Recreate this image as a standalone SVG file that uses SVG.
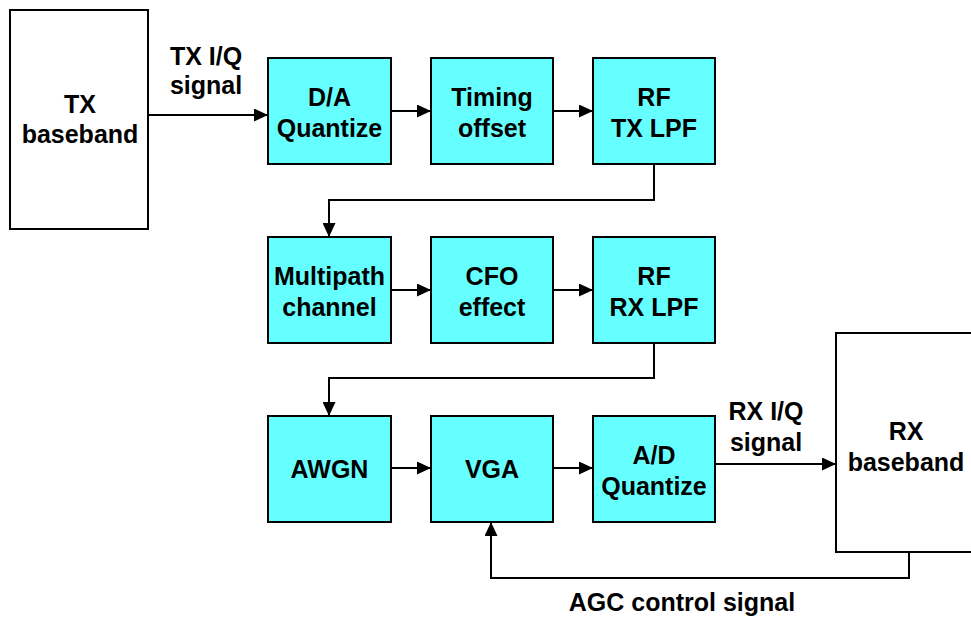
<svg xmlns="http://www.w3.org/2000/svg" width="971" height="619" viewBox="0 0 971 619">
<defs>
<marker id="ah" markerWidth="14" markerHeight="13" refX="14" refY="6.5" orient="auto" markerUnits="userSpaceOnUse">
<path d="M0,0 L14,6.5 L0,13 Z" fill="#000"/>
</marker>
<style>
.blk{fill:#66FFFF;stroke:#000;stroke-width:2}
.bb{fill:#fff;stroke:#000;stroke-width:2}
.t{font-family:"Liberation Sans",Arial,sans-serif;font-weight:bold;font-size:25px;text-anchor:middle;fill:#000}
.c{fill:none;stroke:#000;stroke-width:2;marker-end:url(#ah)}
</style>
</defs>
<rect width="971" height="619" fill="#fff"/>
<g id="tx_baseband"><rect class="bb" x="10" y="10" width="138" height="219"/><text class="t" x="80" y="113">TX</text><text class="t" x="80" y="143">baseband</text></g>
<g id="da"><rect class="blk" x="268" y="58" width="123" height="106"/><text class="t" x="329.5" y="106">D/A</text><text class="t" x="329.5" y="137">Quantize</text></g>
<g id="timing"><rect class="blk" x="431" y="58" width="122" height="106"/><text class="t" x="492" y="106">Timing</text><text class="t" x="492" y="137">offset</text></g>
<g id="rftx"><rect class="blk" x="593" y="58" width="122" height="106"/><text class="t" x="654" y="106">RF</text><text class="t" x="654" y="137">TX LPF</text></g>
<g id="multipath"><rect class="blk" x="268" y="237" width="123" height="106"/><text class="t" x="329.5" y="285">Multipath</text><text class="t" x="329.5" y="316">channel</text></g>
<g id="cfo"><rect class="blk" x="431" y="237" width="122" height="106"/><text class="t" x="492" y="285">CFO</text><text class="t" x="492" y="316">effect</text></g>
<g id="rfrx"><rect class="blk" x="593" y="237" width="122" height="106"/><text class="t" x="654" y="285">RF</text><text class="t" x="654" y="316">RX LPF</text></g>
<g id="awgn"><rect class="blk" x="268" y="416" width="123" height="106"/><text class="t" x="329.5" y="478">AWGN</text></g>
<g id="vga"><rect class="blk" x="431" y="416" width="122" height="106"/><text class="t" x="492" y="478">VGA</text></g>
<g id="ad"><rect class="blk" x="593" y="416" width="122" height="106"/><text class="t" x="654" y="464">A/D</text><text class="t" x="654" y="495">Quantize</text></g>
<g id="rx_baseband"><rect class="bb" x="836" y="333" width="150" height="219"/><text class="t" x="906" y="440">RX</text><text class="t" x="906" y="471">baseband</text></g>
<g id="connectors">
<path class="c" d="M148,115 H268"/>
<path class="c" d="M391,111 H431"/>
<path class="c" d="M553,111 H593"/>
<path class="c" d="M654,164 V200 H329 V237"/>
<path class="c" d="M391,290 H431"/>
<path class="c" d="M553,290 H593"/>
<path class="c" d="M654,343 V378 H329 V416"/>
<path class="c" d="M391,468 H431"/>
<path class="c" d="M553,468 H593"/>
<path class="c" d="M715,464 H836"/>
<path class="c" d="M909,552 V578 H491 V522"/>
</g>
<g id="labels">
<text class="t" x="206" y="65">TX I/Q</text><text class="t" x="206" y="94">signal</text>
<text class="t" x="766" y="420">RX I/Q</text><text class="t" x="766" y="451">signal</text>
<text class="t" x="682" y="611">AGC control signal</text>
</g>
</svg>
